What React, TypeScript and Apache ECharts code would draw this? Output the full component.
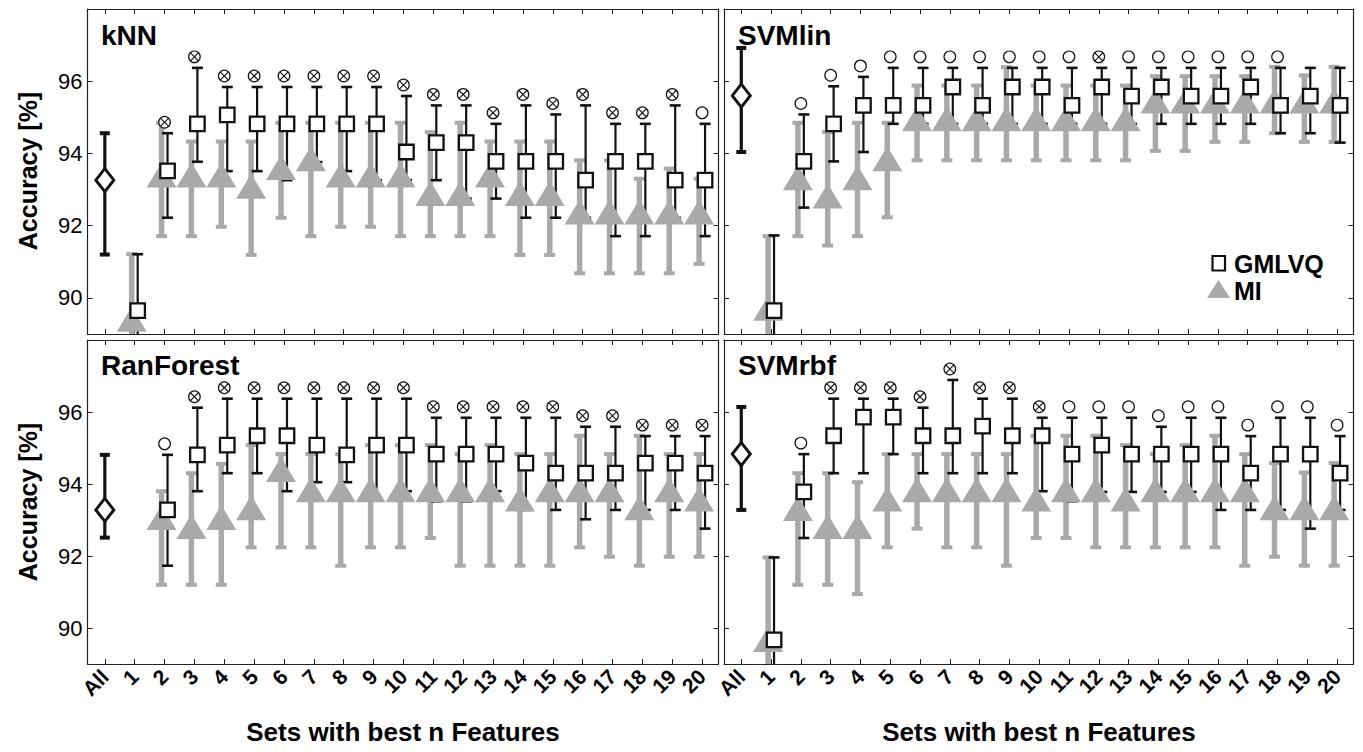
import React, { useEffect, useRef } from 'react';
import * as echarts from 'echarts';

// ---------- data ----------
const categories = ['All', '1', '2', '3', '4', '5', '6', '7', '8', '9', '10', '11', '12', '13', '14', '15', '16', '17', '18', '19', '20'];
const yTickValues = [90, 92, 94, 96];
const panelNames = ['kNN', 'SVMlin', 'RanForest', 'SVMrbf'];
const seriesNames = ['GMLVQ', 'MI'];
const xTitle = 'Sets with best n Features';
const yTitle = 'Accuracy [%]';

// "All" features: [mean, low, high]
const knnAll = [93.26, 91.2, 94.56];
const svmlinAll = [95.6, 94.04, 96.92];
const ranforestAll = [93.28, 92.51, 94.81];
const svmrbfAll = [94.83, 93.28, 96.14];

// values for n = 1..20
const knnGmlvqMean = [89.65, 93.52, 94.82, 95.07, 94.82, 94.82, 94.82, 94.82, 94.82, 94.04, 94.3, 94.3, 93.78, 93.78, 93.78, 93.26, 93.78, 93.78, 93.26, 93.26];
const knnGmlvqLow = [88.1, 92.22, 93.77, 93.51, 93.51, 93.26, 93.76, 93.51, 93.26, 93.26, 93.26, 92.75, 92.75, 92.22, 92.22, 92.22, 91.71, 91.71, 92.22, 91.71];
const knnGmlvqHigh = [91.21, 94.56, 96.37, 95.84, 95.84, 95.84, 95.84, 95.84, 95.84, 95.59, 95.33, 95.33, 94.82, 95.33, 95.08, 95.33, 94.82, 94.82, 95.33, 94.82];
const knnMiMean = [89.41, 93.4, 93.4, 93.4, 93.09, 93.61, 93.85, 93.4, 93.4, 93.4, 92.89, 92.89, 93.4, 92.89, 92.89, 92.38, 92.38, 92.38, 92.38, 92.38];
const knnMiLow = [87.4, 91.71, 91.71, 91.97, 91.19, 92.22, 91.71, 91.97, 91.97, 91.71, 91.71, 91.71, 91.71, 91.19, 91.19, 90.68, 90.68, 90.68, 90.68, 90.94];
const knnMiHigh = [91.21, 94.85, 94.33, 94.33, 94.33, 94.85, 94.85, 94.85, 94.85, 94.85, 94.59, 94.85, 94.33, 94.33, 94.33, 93.81, 93.81, 93.3, 93.58, 93.3];
const knnSig = ['', 'x', 'x', 'x', 'x', 'x', 'x', 'x', 'x', 'x', 'x', 'x', 'x', 'x', 'x', 'x', 'x', 'x', 'x', 'o'];

const svmlinGmlvqMean = [89.65, 93.78, 94.82, 95.33, 95.33, 95.33, 95.84, 95.33, 95.84, 95.84, 95.33, 95.84, 95.59, 95.84, 95.59, 95.59, 95.84, 95.33, 95.59, 95.33];
const svmlinGmlvqLow = [88.1, 92.5, 93.78, 94.04, 94.82, 94.82, 94.82, 94.82, 94.82, 94.82, 94.82, 94.82, 94.82, 94.82, 94.82, 94.82, 94.82, 94.56, 94.56, 94.3];
const svmlinGmlvqHigh = [91.73, 95.08, 95.86, 96.12, 96.37, 96.37, 96.37, 96.37, 96.37, 96.37, 96.37, 96.37, 96.37, 96.37, 96.37, 96.37, 96.37, 96.37, 96.37, 96.37];
const svmlinMiMean = [89.71, 93.33, 92.82, 93.33, 93.85, 94.96, 94.96, 94.96, 94.96, 94.96, 94.96, 94.96, 94.96, 95.45, 95.45, 95.45, 95.45, 95.45, 95.45, 95.45];
const svmlinMiLow = [87.6, 91.71, 91.45, 91.71, 92.23, 93.81, 93.81, 93.81, 93.81, 93.81, 93.81, 93.81, 93.81, 94.07, 94.07, 94.32, 94.32, 94.56, 94.32, 94.32];
const svmlinMiHigh = [91.71, 94.85, 94.59, 94.85, 94.85, 95.88, 95.88, 95.88, 96.39, 95.88, 95.88, 95.88, 95.88, 96.14, 96.14, 96.14, 96.14, 96.4, 96.16, 96.4];
const svmlinSig = ['', 'o', 'o', 'o', 'o', 'o', 'o', 'o', 'o', 'o', 'o', 'x', 'o', 'o', 'o', 'o', 'o', 'o', '', ''];

const ranforestGmlvqMean = [null, 93.28, 94.81, 95.08, 95.34, 95.34, 95.08, 94.81, 95.08, 95.08, 94.83, 94.83, 94.83, 94.58, 94.3, 94.3, 94.3, 94.58, 94.58, 94.3];
const ranforestGmlvqLow = [null, 91.73, 93.8, 94.3, 94.3, 93.8, 94.05, 94.05, 93.54, 93.8, 93.52, 93.52, 93.8, 93.28, 93.28, 93.02, 93.28, 93.28, 93.28, 92.76];
const ranforestGmlvqHigh = [null, 94.81, 96.12, 96.37, 96.37, 96.37, 96.37, 96.37, 96.37, 96.37, 95.84, 95.84, 95.84, 95.84, 95.84, 95.59, 95.59, 95.33, 95.33, 95.33];
const ranforestMiMean = [null, 93.07, 92.82, 93.07, 93.34, 94.4, 93.84, 93.84, 93.84, 93.84, 93.84, 93.84, 93.84, 93.58, 93.84, 93.84, 93.84, 93.34, 93.84, 93.58];
const ranforestMiLow = [null, 91.2, 91.2, 91.2, 92.24, 92.24, 92.24, 91.73, 92.24, 92.24, 92.5, 91.73, 91.73, 91.73, 91.73, 92.24, 91.98, 91.73, 91.98, 91.98];
const ranforestMiHigh = [null, 93.8, 94.3, 94.56, 95.08, 94.83, 94.83, 94.83, 95.08, 95.08, 95.08, 94.83, 95.08, 94.83, 94.83, 95.34, 94.83, 95.34, 94.83, 94.83];
const ranforestSig = ['', 'o', 'x', 'x', 'x', 'x', 'x', 'x', 'x', 'x', 'x', 'x', 'x', 'x', 'x', 'x', 'x', 'x', 'x', 'x'];

const svmrbfGmlvqMean = [89.67, 93.78, 95.34, 95.86, 95.86, 95.34, 95.34, 95.61, 95.34, 95.34, 94.83, 95.08, 94.83, 94.83, 94.83, 94.83, 94.3, 94.83, 94.83, 94.3];
const svmrbfGmlvqLow = [87.38, 92.5, 94.3, 94.3, 94.83, 94.3, 94.3, 94.3, 94.3, 93.8, 93.52, 93.78, 93.78, 93.78, 93.78, 93.28, 93.28, 93.28, 92.76, 93.28];
const svmrbfGmlvqHigh = [91.96, 94.83, 96.37, 96.37, 96.37, 96.12, 96.89, 96.37, 96.37, 95.84, 95.84, 95.84, 95.84, 95.59, 95.84, 95.84, 95.33, 95.84, 95.84, 95.33];
const svmrbfMiMean = [89.68, 93.32, 92.82, 92.82, 93.58, 93.84, 93.84, 93.84, 93.84, 93.58, 93.84, 93.84, 93.58, 93.84, 93.84, 93.84, 93.84, 93.34, 93.34, 93.34];
const svmrbfMiLow = [87.4, 91.2, 91.2, 90.94, 92.24, 92.76, 92.24, 92.24, 91.73, 92.5, 92.5, 92.24, 92.24, 92.24, 92.24, 92.24, 91.73, 91.98, 91.73, 91.73];
const svmrbfMiHigh = [91.96, 94.3, 94.3, 94.05, 94.83, 94.83, 94.83, 94.83, 94.83, 95.34, 95.34, 95.34, 95.08, 94.83, 95.08, 95.34, 94.83, 94.58, 94.32, 94.58];
const svmrbfSig = ['', 'o', 'x', 'x', 'x', 'x', 'x', 'x', 'x', 'x', 'o', 'o', 'o', 'o', 'o', 'o', 'o', 'o', 'o', 'o'];

// ---------- styling ----------
const FONT = "'Liberation Sans', Arial, Helvetica, sans-serif";
const GRAY = '#a9a9a9';
const INK = '#111';
const X_MIN = -0.58;
const X_MAX = 20.55;
const DODGE = 0.1;

const panels = [
  { all: knnAll, gm: [knnGmlvqMean, knnGmlvqLow, knnGmlvqHigh], mi: [knnMiMean, knnMiLow, knnMiHigh], sig: knnSig },
  { all: svmlinAll, gm: [svmlinGmlvqMean, svmlinGmlvqLow, svmlinGmlvqHigh], mi: [svmlinMiMean, svmlinMiLow, svmlinMiHigh], sig: svmlinSig },
  { all: ranforestAll, gm: [ranforestGmlvqMean, ranforestGmlvqLow, ranforestGmlvqHigh], mi: [ranforestMiMean, ranforestMiLow, ranforestMiHigh], sig: ranforestSig },
  { all: svmrbfAll, gm: [svmrbfGmlvqMean, svmrbfGmlvqLow, svmrbfGmlvqHigh], mi: [svmrbfMiMean, svmrbfMiLow, svmrbfMiHigh], sig: svmrbfSig },
];

const gridRects = [
  { left: 87.5, top: 9, width: 631, height: 325 },
  { left: 724, top: 9, width: 629.5, height: 325 },
  { left: 87.5, top: 340, width: 631, height: 324 },
  { left: 724, top: 340, width: 629.5, height: 324 },
];

function errorBarRender(color: string, lw: number, capLw: number, capHalf: number) {
  return (params: any, api: any) => {
    const x = api.value(0);
    const lo = api.coord([x, api.value(1)]);
    const hi = api.coord([x, api.value(2)]);
    return {
      type: 'group',
      children: [
        { type: 'line', shape: { x1: lo[0], y1: lo[1], x2: hi[0], y2: hi[1] }, style: { stroke: color, lineWidth: lw } },
        { type: 'line', shape: { x1: lo[0] - capHalf, y1: lo[1], x2: lo[0] + capHalf, y2: lo[1] }, style: { stroke: color, lineWidth: capLw } },
        { type: 'line', shape: { x1: hi[0] - capHalf, y1: hi[1], x2: hi[0] + capHalf, y2: hi[1] }, style: { stroke: color, lineWidth: capLw } },
      ],
    };
  };
}

function sigRender(params: any, api: any) {
  const p = api.coord([api.value(0), api.value(1)]);
  const cx = p[0];
  const cy = p[1] - 11;
  const r = 5.8;
  const children: any[] = [
    { type: 'circle', shape: { cx, cy, r }, style: { fill: '#fff', stroke: INK, lineWidth: 1.2 } },
  ];
  if (api.value(2) === 2) {
    const d = r * 0.72;
    children.push({ type: 'line', shape: { x1: cx - d, y1: cy - d, x2: cx + d, y2: cy + d }, style: { stroke: INK, lineWidth: 1.1 } });
    children.push({ type: 'line', shape: { x1: cx - d, y1: cy + d, x2: cx + d, y2: cy - d }, style: { stroke: INK, lineWidth: 1.1 } });
  }
  return { type: 'group', children };
}

function buildOption() {
  const tickIdx = categories.map((_, i) => i);
  const xAxis: any[] = [];
  const yAxis: any[] = [];
  const series: any[] = [];
  const axisLine = { show: true, onZero: false, lineStyle: { color: '#222', width: 1.2 } };
  const tickStyle = { color: '#222', width: 1 };

  panels.forEach((p, i) => {
    const showX = i >= 2;
    const showY = i % 2 === 0;
    const xb = { gridIndex: i, type: 'value', min: X_MIN, max: X_MAX, splitLine: { show: false }, axisLine };
    xAxis.push({
      ...xb, position: 'bottom',
      axisTick: { show: true, inside: true, length: 5, customValues: tickIdx, lineStyle: tickStyle },
      axisLabel: {
        show: showX, customValues: tickIdx, formatter: (v: number) => categories[Math.round(v)] ?? '',
        rotate: 45, margin: 9, fontSize: 21, fontWeight: 'bold', fontFamily: FONT, color: '#000',
      },
    });
    xAxis.push({
      ...xb, position: 'top',
      axisTick: { show: true, inside: true, length: 5, customValues: tickIdx, lineStyle: tickStyle },
      axisLabel: { show: false },
    });
    const yb = { gridIndex: i, type: 'value', min: 89, max: 98, splitLine: { show: false }, axisLine };
    yAxis.push({
      ...yb, position: 'left',
      axisTick: { show: true, inside: true, length: 5, customValues: yTickValues, lineStyle: tickStyle },
      axisLabel: { show: showY, customValues: yTickValues, fontSize: 22, fontFamily: FONT, color: '#000', margin: 5 },
    });
    yAxis.push({
      ...yb, position: 'right',
      axisTick: { show: true, inside: true, length: 5, customValues: yTickValues, lineStyle: tickStyle },
      axisLabel: { show: false },
    });

    const xi = 2 * i;
    const yi = 2 * i;
    const [gMean, gLow, gHigh] = p.gm;
    const [mMean, mLow, mHigh] = p.mi;

    const miBars: any[] = [];
    const miPts: any[] = [];
    const gmBars: any[] = [];
    const gmPts: any[] = [];
    const sigPts: any[] = [];
    for (let k = 1; k <= 20; k++) {
      const j = k - 1;
      if (mMean[j] != null) {
        miBars.push([k - DODGE, mLow[j], mHigh[j]]);
        miPts.push([k - DODGE, mMean[j]]);
      }
      if (gMean[j] != null) {
        gmBars.push([k + DODGE, gLow[j], gHigh[j]]);
        gmPts.push([k + DODGE, gMean[j]]);
      }
      const s = p.sig[j];
      if (s && gHigh[j] != null) sigPts.push([k, gHigh[j], s === 'x' ? 2 : 1]);
    }

    series.push({
      type: 'custom', name: 'MI', xAxisIndex: xi, yAxisIndex: yi, clip: true,
      renderItem: errorBarRender(GRAY, 5.5, 4, 5.5), data: miBars, encode: { x: 0, y: [1, 2] }, silent: true,
    });
    series.push({
      type: 'scatter', name: 'MI', xAxisIndex: xi, yAxisIndex: yi, clip: true,
      symbol: 'triangle', symbolSize: [30, 25], itemStyle: { color: GRAY, opacity: 1 }, data: miPts, silent: true,
    });
    series.push({
      type: 'custom', name: 'All', xAxisIndex: xi, yAxisIndex: yi, clip: true,
      renderItem: errorBarRender(INK, 3.2, 4, 5), data: [[0, p.all[1], p.all[2]]], encode: { x: 0, y: [1, 2] }, silent: true,
    });
    series.push({
      type: 'custom', name: 'GMLVQ', xAxisIndex: xi, yAxisIndex: yi, clip: true,
      renderItem: errorBarRender(INK, 2.2, 2.6, 5.5), data: gmBars, encode: { x: 0, y: [1, 2] }, silent: true,
    });
    series.push({
      type: 'scatter', name: 'All', xAxisIndex: xi, yAxisIndex: yi, clip: true,
      symbol: 'diamond', symbolSize: [18, 23], itemStyle: { color: '#fff', borderColor: INK, borderWidth: 3, opacity: 1 },
      data: [[0, p.all[0]]], silent: true,
    });
    series.push({
      type: 'scatter', name: 'GMLVQ', xAxisIndex: xi, yAxisIndex: yi, clip: true,
      symbol: 'rect', symbolSize: 14.5, itemStyle: { color: '#fff', borderColor: INK, borderWidth: 2.3, opacity: 1 },
      data: gmPts, silent: true,
    });
    series.push({
      type: 'custom', name: 'significance', xAxisIndex: xi, yAxisIndex: yi, clip: false,
      renderItem: sigRender, data: sigPts, encode: { x: 0, y: 1 }, silent: true,
    });
  });

  const titleStyle = { fontSize: 28, fontWeight: 'bold', fontFamily: FONT, fill: '#000', verticalAlign: 'middle', align: 'left' };
  const titlePos = [[101, 35], [738, 35], [101, 365], [738, 365]];
  const graphic: any[] = [];
  panelNames.forEach((n, i) => {
    graphic.push({ type: 'text', x: titlePos[i][0], y: titlePos[i][1], style: { ...titleStyle, text: n } });
  });
  const axisTitleStyle = { fontSize: 25, fontWeight: 'bold', fontFamily: FONT, fill: '#000', align: 'center', verticalAlign: 'middle' };
  graphic.push({ type: 'text', x: 28, y: 171, rotation: Math.PI / 2, style: { ...axisTitleStyle, text: yTitle } });
  graphic.push({ type: 'text', x: 28, y: 502, rotation: Math.PI / 2, style: { ...axisTitleStyle, text: yTitle } });
  graphic.push({ type: 'text', x: 403, y: 732, style: { ...axisTitleStyle, fontSize: 26, text: xTitle } });
  graphic.push({ type: 'text', x: 1039, y: 732, style: { ...axisTitleStyle, fontSize: 26, text: xTitle } });
  // legend (SVMlin panel)
  graphic.push({ type: 'rect', shape: { x: 1212.5, y: 256, width: 12.5, height: 14.5 }, style: { fill: '#fff', stroke: INK, lineWidth: 2.2 } });
  graphic.push({ type: 'polygon', shape: { points: [[1207, 298], [1218.5, 280], [1230, 298]] }, style: { fill: GRAY } });
  const legendText = { fontSize: 25, fontWeight: 'bold', fontFamily: FONT, fill: '#000', align: 'left', verticalAlign: 'middle' };
  graphic.push({ type: 'text', x: 1234, y: 264, style: { ...legendText, text: seriesNames[0] } });
  graphic.push({ type: 'text', x: 1234, y: 291, style: { ...legendText, text: seriesNames[1] } });

  return {
    animation: false,
    backgroundColor: '#fff',
    grid: gridRects.map((r) => ({ ...r, containLabel: false })),
    xAxis,
    yAxis,
    series,
    graphic,
  };
}

export default function App() {
  const ref = useRef<HTMLDivElement>(null);
  useEffect(() => {
    if (!ref.current) return;
    const chart = echarts.init(ref.current, undefined, { renderer: 'svg' });
    chart.setOption(buildOption() as any);
    return () => chart.dispose();
  }, []);
  return (
    <div
      ref={ref}
      style={{ position: 'absolute', left: 0, top: 0, width: 1363, height: 752, background: '#fff' }}
    />
  );
}
